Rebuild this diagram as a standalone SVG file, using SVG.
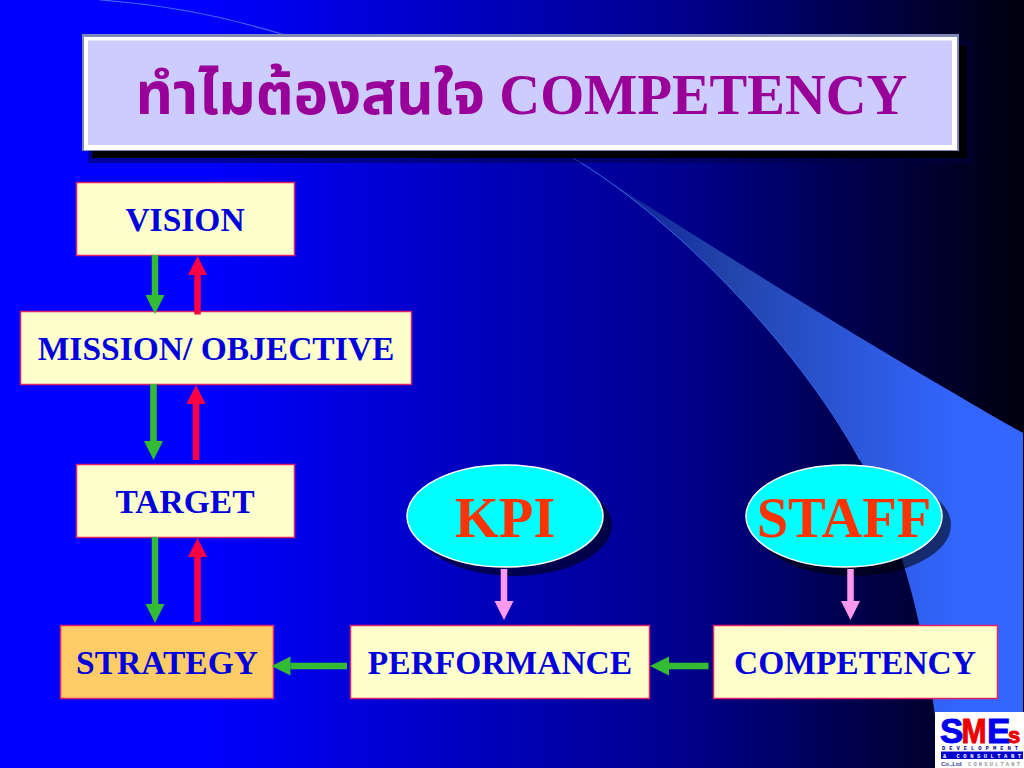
<svg xmlns="http://www.w3.org/2000/svg" width="1024" height="768" viewBox="0 0 1024 768">
<style>
.box{stroke:#e0206a;stroke-width:1.5}
.t{font-family:"Liberation Serif","Noto Sans Thai",serif;font-weight:bold;text-anchor:middle}
.l{font-size:33.5px;fill:#0000dd}
.e{font-size:56.5px;fill:#ff3300}
.c{fill:none;stroke-width:6.5}
.g{stroke:#33bb33}.r{stroke:#ff0044}.p{stroke:#ff99ee}
.ls{font-family:"Liberation Sans",sans-serif;font-weight:bold}
.lm{font-family:"Liberation Mono",monospace;font-weight:bold;font-size:5.5px}
</style>
<defs>
<linearGradient id="bg" x1="0" x2="1" y1="0" y2="0">
<stop offset="0" stop-color="#0000ff"/><stop offset="0.2" stop-color="#0000ff"/><stop offset="0.68" stop-color="#000088"/><stop offset="0.97" stop-color="#000018"/><stop offset="1" stop-color="#000010"/>
</linearGradient>
<linearGradient id="sw" gradientUnits="userSpaceOnUse" x1="600" y1="0" x2="960" y2="0">
<stop offset="0" stop-color="#0a1a90"/><stop offset="0.35" stop-color="#2244aa"/><stop offset="1" stop-color="#3366ff"/>
</linearGradient>
<marker id="hg" markerUnits="userSpaceOnUse" markerWidth="20" markerHeight="20" refX="0" refY="10" orient="auto" viewBox="0 0 20 20"><path d="M0 .5L19 10L0 19.500z" fill="#33bb33"/></marker>
<marker id="hr" markerUnits="userSpaceOnUse" markerWidth="20" markerHeight="20" refX="0" refY="10" orient="auto" viewBox="0 0 20 20"><path d="M0 .5L19 10L0 19.500z" fill="#ff0044"/></marker>
<marker id="hp" markerUnits="userSpaceOnUse" markerWidth="20" markerHeight="20" refX="0" refY="10" orient="auto" viewBox="0 0 20 20"><path d="M0 .5L19 10L0 19.500z" fill="#ff99ee"/></marker>
</defs>
<rect id="background" width="1024" height="768" fill="url(#bg)"/>
<path id="swoosh" d="M573 158 C 700 240 880 352 1023 433 L1023 768 L941 768 C 925 600 890 515 860 460 C 795 340 665 212 573 158 Z" fill="url(#sw)"/>
<path d="M573 158 C 665 212 795 340 860 460" fill="none" stroke="#3a66ee" stroke-width="1"/>
<path d="M100 0 C 170 5 230 18 285 35" fill="none" stroke="#4466ff" stroke-width="1.2"/>
<g id="title">
<rect x="88" y="41" width="884" height="122" fill="#000040" fill-opacity=".5"/>
<rect x="92" y="45" width="875" height="113" fill="#000"/>
<rect x="82" y="34" width="877" height="117" fill="#7f88b8"/>
<rect x="84" y="37" width="873" height="113" fill="#fff"/>
<rect x="88" y="40.500" width="864" height="104.500" fill="#ccccff"/>
<text class="t" x="521.500" y="114" fill="#990099" font-size="56.500" style="font-family:'Liberation Serif','Noto Sans Thai','Noto Serif Thai','Noto Sans',serif"><tspan font-size="58">ทำไมต้องสนใจ</tspan> COMPETENCY</text>
</g>
<g id="vision"><rect class="box" x="76.500" y="182.500" width="218" height="73" fill="#ffffcc"/><text class="t l" x="185" y="231">VISION</text></g>
<g id="mission"><rect class="box" x="20.500" y="311.500" width="391" height="73" fill="#ffffcc"/><text class="t l" x="216" y="360">MISSION/ OBJECTIVE</text></g>
<g id="target"><rect class="box" x="76.500" y="464.500" width="218" height="73" fill="#ffffcc"/><text class="t l" x="185" y="513">TARGET</text></g>
<g id="strategy"><rect class="box" x="60.500" y="625.500" width="213" height="73" fill="#ffcc66"/><text class="t l" x="167" y="674">STRATEGY</text></g>
<g id="performance"><rect class="box" x="350.500" y="625.500" width="299" height="73" fill="#ffffcc"/><text class="t l" x="500" y="674">PERFORMANCE</text></g>
<g id="competency"><rect class="box" x="713.500" y="625.500" width="284" height="73" fill="#ffffcc"/><text class="t l" x="855" y="674">COMPETENCY</text></g>
<g id="kpi"><ellipse cx="514" cy="525" rx="98" ry="51" fill="#000" fill-opacity=".55"/><ellipse cx="505" cy="516" rx="98" ry="51" fill="#00ffff" stroke="#fff" stroke-width="1.500"/><text class="t e" x="505" y="537">KPI</text></g>
<g id="staff"><ellipse cx="853" cy="525" rx="98" ry="51" fill="#000" fill-opacity=".55"/><ellipse cx="844" cy="516" rx="98" ry="51" fill="#00ffff" stroke="#fff" stroke-width="1.500"/><text class="t e" x="844" y="537">STAFF</text></g>
<g id="connectors">
<path class="c g" d="M155 255V295" marker-end="url(#hg)"/>
<path class="c r" d="M197.500 314.500V275" marker-end="url(#hr)"/>
<path class="c g" d="M153.500 384V441" marker-end="url(#hg)"/>
<path class="c r" d="M196 460V404" marker-end="url(#hr)"/>
<path class="c g" d="M155 537V604" marker-end="url(#hg)"/>
<path class="c r" d="M197.500 622V557" marker-end="url(#hr)"/>
<path class="c p" d="M504 569V601" marker-end="url(#hp)"/>
<path class="c p" d="M850.500 569V601" marker-end="url(#hp)"/>
<path class="c g" d="M347 666H290.500" marker-end="url(#hg)"/>
<path class="c g" d="M708.500 666H669" marker-end="url(#hg)"/>
</g>
<g id="logo"><rect x="935" y="712" width="89" height="56" fill="#fff"/>
<text class="ls" y="743" font-size="35" stroke-width="1"><tspan x="940" fill="#0000ee" stroke="#0000ee">S</tspan><tspan x="961.500" fill="#ee0000" stroke="#ee0000" textLength="25" lengthAdjust="spacingAndGlyphs">M</tspan><tspan x="987" fill="#0000ee" stroke="#0000ee" font-size="35">E</tspan><tspan x="1008" font-size="22" fill="#ee0000" stroke="#ee0000">s</tspan></text>
<text class="lm" x="942" y="750" fill="#000080" textLength="76">DEVELOPMENT</text>
<rect x="941" y="751.500" width="82" height="7.500" fill="#0000cc"/>
<text class="lm" x="943" y="757.500" fill="#fff" textLength="78">&amp; CONSULTANT</text>
<text class="ls" x="941" y="765.500" font-size="6" fill="#334499">Co.,Ltd</text>
<text class="lm" x="968" y="765.500" fill="#999" textLength="52">CONSULTANT</text>
</g>
</svg>
